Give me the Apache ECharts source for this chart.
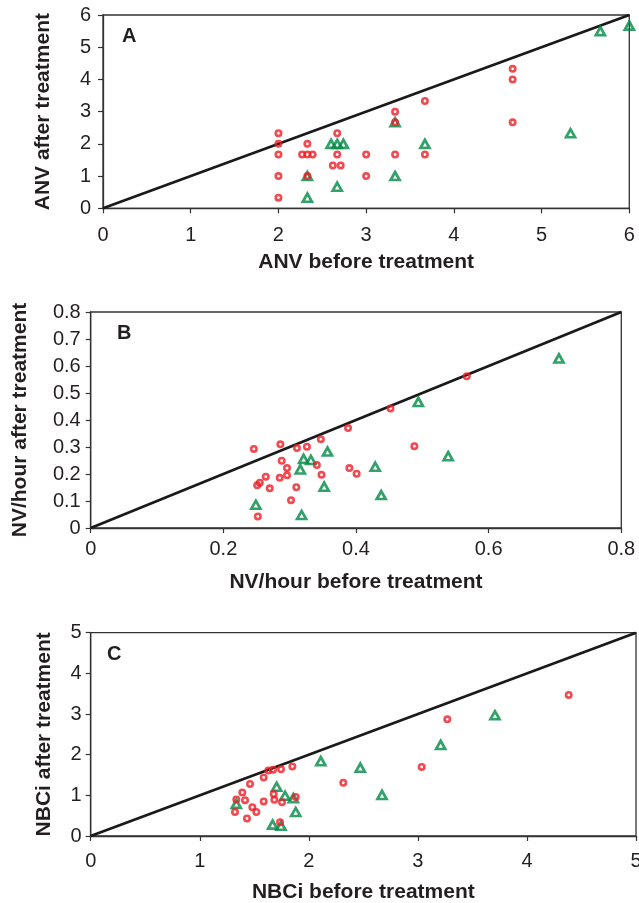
<!DOCTYPE html>
<html>
<head>
<meta charset="utf-8">
<script src="https://cdn.jsdelivr.net/npm/echarts@6/dist/echarts.min.js"></script>
<style>
html,body{margin:0;padding:0;background:#fff;}
#chart{width:639px;height:903px;}
</style>
</head>
<body>
<div id="chart"></div>
<script>
// Panel A: ANV
const aCircles = [[2,2.33],[2,2],[2,1.67],[2,1],[2,0.33],[2.33,2],[2.27,1.67],[2.33,1.67],[2.39,1.67],[2.33,1.0],[2.67,2.33],[2.67,1.67],[2.62,1.33],[2.71,1.33],[3,1.67],[3,1],[3.33,3],[3.33,2.67],[3.33,1.67],[3.67,3.33],[3.67,1.67],[4.67,4.33],[4.67,4.0],[4.67,2.67]];
const aTriangles = [[2.33,1.0],[2.33,0.33],[2.6,2.0],[2.67,2.0],[2.74,2.0],[2.67,0.67],[3.33,2.67],[3.33,1.0],[3.67,2.0],[5.33,2.33],[5.67,5.5],[6,5.67]];
// Panel B: NV/hour
const bCircles = [[0.246,0.293],[0.286,0.310],[0.311,0.296],[0.326,0.301],[0.347,0.329],[0.388,0.370],[0.452,0.443],[0.567,0.562],[0.288,0.249],[0.296,0.222],[0.296,0.195],[0.285,0.186],[0.264,0.190],[0.255,0.168],[0.251,0.158],[0.270,0.147],[0.310,0.151],[0.341,0.233],[0.348,0.197],[0.390,0.222],[0.401,0.201],[0.488,0.303],[0.302,0.103],[0.252,0.043]];
const bTriangles = [[0.249,0.086],[0.318,0.048],[0.316,0.217],[0.321,0.256],[0.332,0.252],[0.357,0.283],[0.352,0.153],[0.429,0.227],[0.438,0.122],[0.494,0.467],[0.539,0.266],[0.706,0.628]];
// Panel C: NBCi
const cCircles = [[1.323,0.59],[1.335,0.90],[1.390,1.07],[1.415,0.88],[1.433,0.43],[1.461,1.28],[1.482,0.71],[1.519,0.59],[1.586,0.85],[1.586,1.44],[1.629,1.61],[1.672,1.63],[1.745,1.64],[1.849,1.71],[1.678,1.03],[1.684,0.89],[1.754,0.83],[1.736,0.34],[1.880,0.96],[2.316,1.31],[3.035,1.70],[3.270,2.87],[4.383,3.47]];
const cTriangles = [[1.335,0.79],[1.705,1.21],[1.782,0.99],[1.858,0.93],[1.880,0.59],[1.668,0.28],[1.745,0.25],[2.11,1.84],[2.472,1.68],[2.671,1.01],[3.209,2.24],[3.707,2.97]];
// Axis ranges / titles
const panelLetters = ['A','B','C'];
const axisMax = [6, 0.8, 5];
const xIntervals = [1, 0.2, 1];
const yIntervals = [1, 0.1, 1];
const xTitles = ['ANV before treatment','NV/hour before treatment','NBCi before treatment'];
const yTitles = ['ANV after treatment','NV/hour after treatment','NBCi after treatment'];
const identityLines = [[[0,0],[6,6]],[[0,0],[0.8,0.8]],[[0,0],[5,5]]];

const FONT = '"Liberation Sans", Arial, Helvetica, sans-serif';
const TXT = '#231f20';
const RED = '#ee1d26';
const GREEN = '#008a45';

const grids = [
  {left:103, top:15, width:526.3, height:193.3},
  {left:90.7, top:312, width:530.6, height:216},
  {left:90.7, top:632.7, width:545.3, height:203.3}
];
const xLabelMargin = [17, 11, 15];
const xNameGap = [54, 54.5, 56.5];
const yLabelMargin = [12, 10, 9];
const yNameGap = [60, 70, 46];
const letterPos = [[122,36],[117,333],[107,654]];

const chartEl = document.getElementById('chart');
const chart = echarts.init(chartEl, null, {renderer:'canvas'});

const xAxis = [], yAxis = [], series = [], graphic = [];
const circles = [aCircles, bCircles, cCircles];
const triangles = [aTriangles, bTriangles, cTriangles];

for (let i = 0; i < 3; i++) {
  const common = {
    gridIndex: i, type: 'value', min: 0, max: axisMax[i],
    splitLine: {show:false},
    axisLine: {show:true, lineStyle:{color:'#333', width:1.3}},
    axisTick: {show:true, inside:false, length:5, lineStyle:{color:'#333', width:1.2}},
    nameLocation: 'middle',
    nameTextStyle: {fontFamily:FONT, fontSize:21, fontWeight:'bold', color:TXT, align:'center', verticalAlign:'middle'}
  };
  xAxis.push(Object.assign({}, common, {
    interval: xIntervals[i],
    name: xTitles[i], nameGap: xNameGap[i],
    axisLabel: {fontFamily:FONT, fontSize:20, color:TXT, margin:xLabelMargin[i], showMaxLabel:true, showMinLabel:true, hideOverlap:false}
  }));
  yAxis.push(Object.assign({}, common, {
    interval: yIntervals[i],
    name: yTitles[i], nameGap: yNameGap[i],
    axisLabel: {fontFamily:FONT, fontSize:20, color:TXT, margin:yLabelMargin[i], showMaxLabel:true, showMinLabel:true, hideOverlap:false}
  }));
  series.push({
    type:'line', xAxisIndex:i, yAxisIndex:i, data: identityLines[i],
    symbol:'none', silent:true, animation:false,
    lineStyle:{color:'#1a1a1a', width:2.8}, z:2
  });
  series.push({
    type:'scatter', xAxisIndex:i, yAxisIndex:i, data: triangles[i],
    symbol:'triangle', symbolSize:[9,8], animation:false,
    itemStyle:{color:'rgba(255,255,255,0)', borderColor:GREEN, borderWidth:2.7}, z:3
  });
  series.push({
    type:'scatter', xAxisIndex:i, yAxisIndex:i, data: circles[i],
    symbol:'circle', symbolSize:5.4, animation:false,
    itemStyle:{color:'rgba(255,255,255,0)', borderColor:RED, borderWidth:2.6}, z:4
  });
  graphic.push({
    type:'text', left:letterPos[i][0], top:letterPos[i][1] - 10,
    style:{text:panelLetters[i], font:'bold 20px ' + FONT, fill:TXT}
  });
}

chart.setOption({
  backgroundColor:'#fff',
  animation:false,
  grid: grids.map(g => Object.assign({show:true, borderColor:'#333', borderWidth:1.3, backgroundColor:'transparent', containLabel:false, outerBoundsMode:'none'}, g)),
  xAxis, yAxis, series, graphic
});
</script>
</body>
</html>
